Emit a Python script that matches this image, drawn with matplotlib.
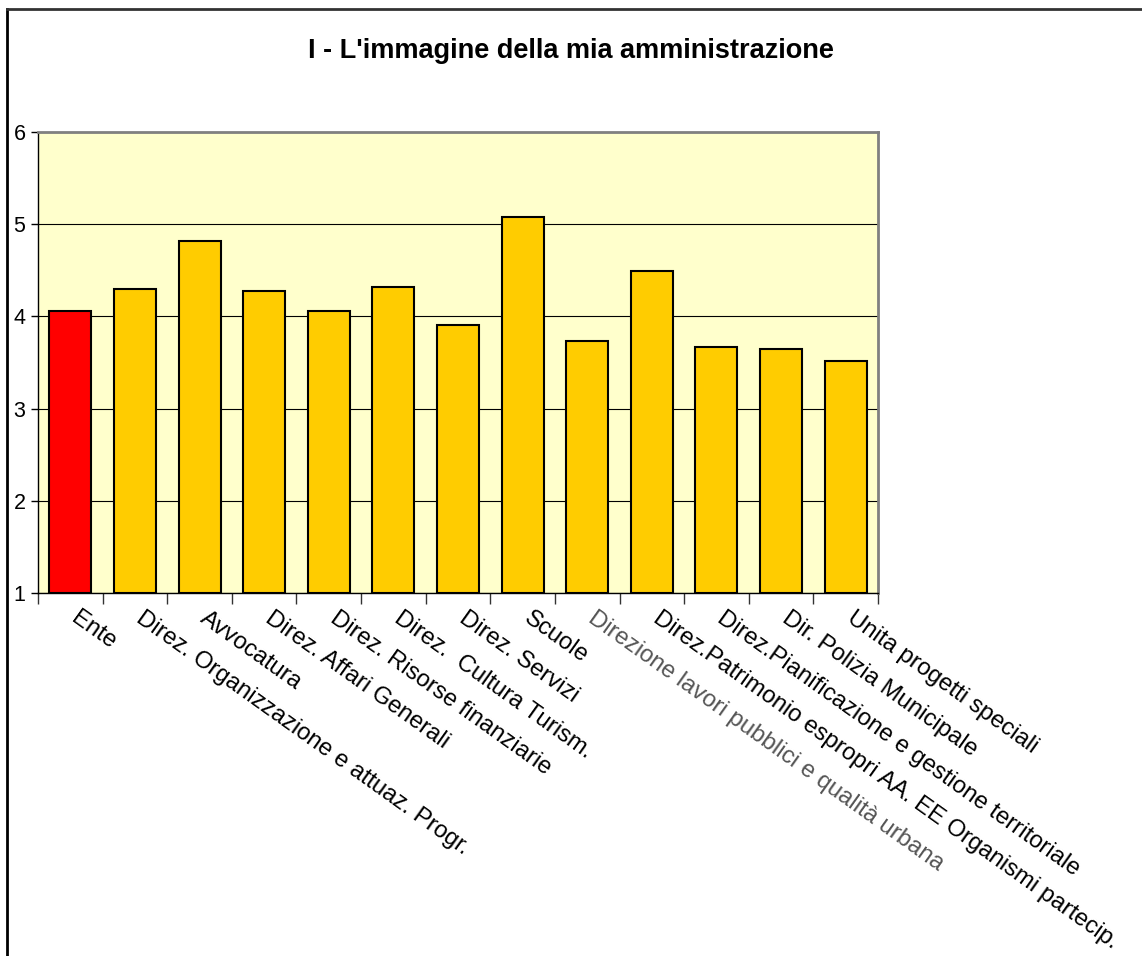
import matplotlib
matplotlib.use("Agg")
import matplotlib.pyplot as plt
from matplotlib.lines import Line2D
from matplotlib.transforms import blended_transform_factory

plt.rcParams['font.family'] = ['Liberation Sans', 'DejaVu Sans']

title = "I - L'immagine della mia amministrazione"
categories = [
    "Ente",
    "Direz. Organizzazione e attuaz. Progr.",
    "Avvocatura",
    "Direz. Affari Generali",
    "Direz. Risorse finanziarie",
    "Direz.  Cultura Turism.",
    "Direz. Servizi",
    "Scuole",
    "Direzione lavori pubblici e qualità urbana",
    "Direz.Patrimonio espropri AA. EE Organismi partecip.",
    "Direz.Pianificazione e gestione territoriale",
    "Dir. Polizia Municipale",
    "Unita progetti speciali",
]
values = [4.06, 4.30, 4.82, 4.28, 4.06, 4.32, 3.91, 5.08, 3.73, 4.49, 3.67, 3.65, 3.52]
yticks = [1, 2, 3, 4, 5, 6]

W, H = 1142, 956
fig = plt.figure(figsize=(W / 100, H / 100), dpi=100)
fig.patch.set_facecolor('white')

# outer chart border (top and left visible)
fig.add_artist(Line2D([7 / W, 7 / W], [0, 1 - 9 / H], transform=fig.transFigure,
                      color='black', lw=2))
fig.add_artist(Line2D([7 / W, 1], [1 - 9 / H, 1 - 9 / H], transform=fig.transFigure,
                      color='#333333', lw=2))

left, right = 38 / W, 878 / W
top, bottom = 1 - 132 / H, 1 - 593 / H
ax = fig.add_axes([left, bottom, right - left, top - bottom])
ax.set_facecolor('#FFFFCC')

n = len(categories)
x = list(range(n))
colors = ['#FF0000'] + ['#FFCC00'] * (n - 1)
ax.bar(x, [v - 1 for v in values], bottom=1, width=0.65, color=colors,
       edgecolor='black', linewidth=1.5, zorder=3)

ax.set_xlim(-0.5, n - 0.5)
ax.set_ylim(1, 6)
ax.set_yticks(yticks)
ax.set_yticklabels([str(t) for t in yticks], fontsize=15.5)
ax.yaxis.grid(True, color='black', linewidth=0.8, zorder=1)
ax.set_axisbelow(True)

for s in ['top', 'right']:
    ax.spines[s].set_color('#808080')
    ax.spines[s].set_linewidth(2)
for s in ['left', 'bottom']:
    ax.spines[s].set_color('black')
    ax.spines[s].set_linewidth(1)

ax.tick_params(axis='y', length=5, width=1, pad=4)
ax.set_xticks([i - 0.5 for i in range(n + 1)])
ax.set_xticklabels([])
ax.tick_params(axis='x', length=8, width=1, direction='out', color='#333333')

trans = blended_transform_factory(ax.transData, ax.transAxes)
for i, lab in enumerate(categories):
    col = '#555555' if i == 8 else 'black'
    ax.text(i + 0.15, -0.03, lab, transform=trans, rotation=-35.5,
            rotation_mode='anchor', ha='left', va='top', fontsize=17.2, color=col)

fig.text(0.5, 1 - 51 / H, title, ha='center', va='center', fontsize=19.5,
         fontweight='bold')

fig.savefig('out.png', dpi=100)
